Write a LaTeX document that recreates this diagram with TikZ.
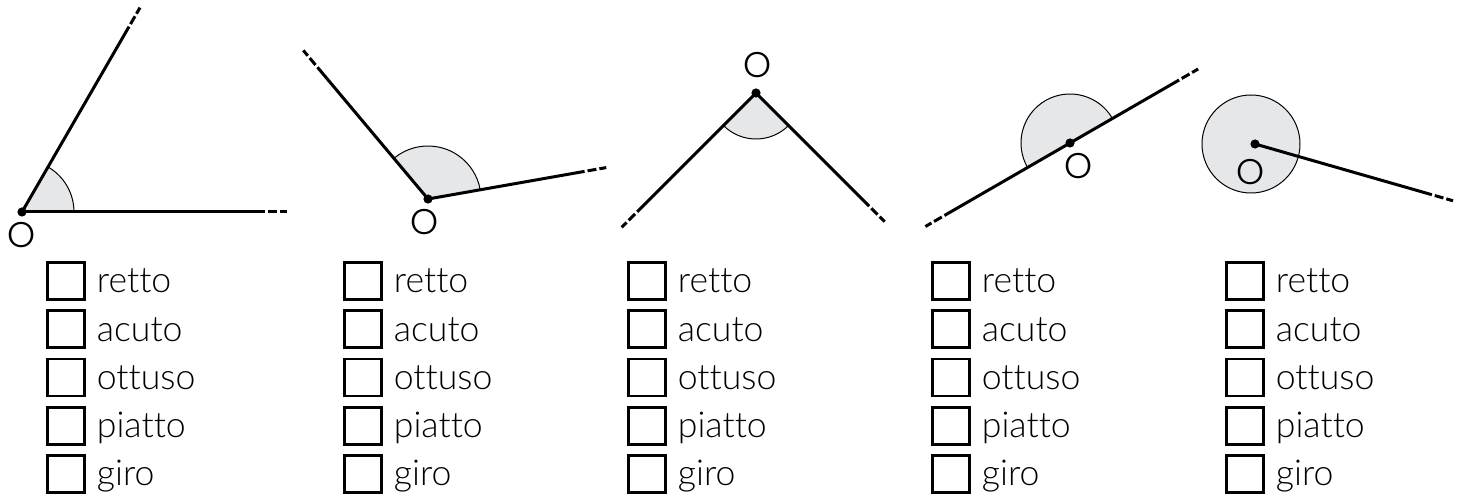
\documentclass[tikz,border=0pt]{standalone}
\usepackage{fontspec}
\setmainfont{Lato Light}[Ligatures=NoCommon]
\newfontfamily\labelfont{Poppins Light}
\usetikzlibrary{positioning}
\definecolor{sectorgray}{RGB}{230,231,233}

\begin{document}
\begin{tikzpicture}[x=0.5pt, y=0.5pt,
    % Styles
    ray/.style={line width=1.5pt},
    tail/.style={line width=1.5pt, dash pattern=on 0pt off 1.5pt on 4.5pt off 1.5pt on 3.5pt},
    sector/.style={fill=sectorgray},
    arcline/.style={line width=0.5pt},
    vertex/.style={circle, fill=black, inner sep=0pt, minimum size=4.6pt},
    vlabel/.style={font=\labelfont\fontsize{17.8}{20}\selectfont, inner sep=0pt},
    tick/.style={draw, line width=1.4pt, minimum size=18.5pt, inner sep=0pt, outer sep=0pt},
    choice/.style={font=\fontsize{17.8}{20}\selectfont, inner sep=0pt, text height=12pt, text depth=0pt, anchor=west},
]
\useasboundingbox (0,0) rectangle (1464,498);

% Angle 1: acute
\coordinate (v1) at (22,286);
\fill[sector] (v1) -- ++(0:52) arc[start angle=0, end angle=60, radius=52] -- cycle;
\draw[arcline] (v1) ++(0:52) arc[start angle=0, end angle=60, radius=52];
\draw[ray] (v1) -- ++(0:243) coordinate (e1a);
\draw[tail] (e1a) -- ++(0:22);
\draw[ray] (v1) -- ++(60:214) coordinate (e1b);
\draw[tail] (e1b) -- ++(60:22);
\node[vertex] (d1) at (v1) {};
\node[vlabel] (o1) at (22,263) {O};

% Angle 2: obtuse
\coordinate (v2) at (428,299);
\fill[sector] (v2) -- ++(10:53) arc[start angle=10, end angle=130, radius=53] -- cycle;
\draw[arcline] (v2) ++(10:53) arc[start angle=10, end angle=130, radius=53];
\draw[ray] (v2) -- ++(10:159) coordinate (e2a);
\draw[tail] (e2a) -- ++(10:22);
\draw[ray] (v2) -- ++(130:172) coordinate (e2b);
\draw[tail] (e2b) -- ++(130:22);
\node[vertex] (d2) at (v2) {};
\node[vlabel] (o2) at (425,276) {O};

% Angle 3: right
\coordinate (v3) at (756,405);
\fill[sector] (v3) -- ++(225:46) arc[start angle=225, end angle=315, radius=46] -- cycle;
\draw[arcline] (v3) ++(225:46) arc[start angle=225, end angle=315, radius=46];
\draw[ray] (v3) -- ++(225:168) coordinate (e3a);
\draw[tail] (e3a) -- ++(225:22);
\draw[ray] (v3) -- ++(315:160) coordinate (e3b);
\draw[tail] (e3b) -- ++(315:22);
\node[vertex] (d3) at (v3) {};
\node[vlabel] (o3) at (758,433) {O};

% Angle 4: straight
\coordinate (v4) at (1070,355);
\fill[sector] (v4) -- ++(30:49) arc[start angle=30, end angle=210, radius=49] -- cycle;
\draw[arcline] (v4) ++(30:49) arc[start angle=30, end angle=210, radius=49];
\draw[ray] (v4) -- ++(30:126) coordinate (e4a);
\draw[tail] (e4a) -- ++(30:22);
\draw[ray] (v4) -- ++(210:145) coordinate (e4b);
\draw[tail] (e4b) -- ++(210:22);
\node[vertex] (d4) at (v4) {};
\node[vlabel] (o4) at (1079,332) {O};

% Angle 5: full
\coordinate (v5) at (1255,354);
\filldraw[sector, arcline] (1251,354) circle[radius=49];
\draw[ray] (v5) -- ++(-16:184) coordinate (e5a);
\draw[tail] (e5a) -- ++(-16:22);
\node[vertex] (d5) at (v5) {};
\node[vlabel] (o5) at (1251,326) {O};

% Check boxes
\foreach \col/\x in {1/66, 2/363, 3/647, 4/951, 5/1245} {
  \foreach \row/\word in {1/retto, 2/acuto, 3/ottuso, 4/piatto, 5/giro} {
    \node[tick] (box\col\row) at (\x, {217-48.25*(\row-1)}) {};
    \node[choice, right=6pt of box\col\row] (word\col\row) {\word};
  }
}

\end{tikzpicture}
\end{document}
